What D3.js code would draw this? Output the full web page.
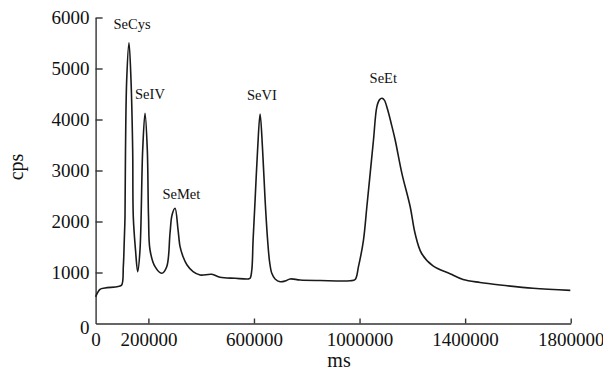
<!DOCTYPE html>
<html>
<head>
<meta charset="utf-8">
<script src="https://cdn.jsdelivr.net/npm/d3@7"></script>
<style>
  html, body { margin: 0; padding: 0; background: #fff; }
  svg text { font-family: "Liberation Serif", "Times New Roman", serif; fill: #111; }
</style>
</head>
<body>
<div id="chart"></div>
<script>
// -------- Data --------
// retention time, ms
const timeMs = [
  0, 16700, 35600, 84900, 98900, 105000, 108700, 111400, 113300, 117800,
  126500, 134100, 140500, 142800, 151200, 159500, 168200, 178400, 187200, 195900,
  200500, 206200, 225200, 250600, 269500, 282000, 289600, 301000, 312400, 320000,
  331400, 346500, 369300, 395800, 440100, 471600, 528400, 577700, 585300, 591800,
  596700, 604300, 613700, 623200, 632700, 642200, 651700, 659300, 667600, 680100,
  699100, 718000, 737000, 774900, 850700, 964400, 983400, 995900, 1014900, 1027700,
  1040300, 1052800, 1065700, 1076000, 1085000, 1094000, 1106000, 1121000, 1135000, 1160400,
  1191900, 1210200, 1234800, 1278400, 1342800, 1392100, 1456500, 1532300, 1657300, 1798500
];
// signal, cps
const signalCps = [
  525, 670, 696, 724, 755, 1114, 1637, 2094, 3402, 4775,
  5506, 4775, 3402, 2094, 1441, 1016, 1441, 3402, 4122, 3402,
  2094, 1441, 1114, 984, 1114, 1775, 2128, 2259, 1834, 1506,
  1310, 1147, 1016, 951, 965, 906, 886, 873, 886, 1049,
  1637, 2422, 3402, 4108, 3402, 2422, 1637, 1206, 984, 873,
  820, 833, 873, 853, 843, 839, 863, 1114, 1637, 2290,
  2945, 3598, 4252, 4390, 4416, 4380, 4200, 3900, 3598, 2945,
  2290, 1769, 1377, 1128, 976, 863, 804, 755, 690, 650
];

// peak labels
const peakNames = ["SeCys", "SeIV", "SeMet", "SeVI", "SeEt"];
const peakTimes = [138000, 206000, 325000, 630000, 1090000];
const peakCps   = [5775, 4400, 2440, 4380, 4716];

const xTicks = [0, 200000, 600000, 1000000, 1400000, 1800000];
const yTicks = [0, 1000, 2000, 3000, 4000, 5000, 6000];

// -------- Layout --------
const W = 603, H = 378;
const margin = { top: 17.5, right: 32.3, bottom: 54.5, left: 95.6 };
const width = W - margin.left - margin.right;
const height = H - margin.top - margin.bottom;

const svg = d3.select("#chart").append("svg")
  .attr("width", W)
  .attr("height", H);

const g = svg.append("g")
  .attr("transform", `translate(${margin.left},${margin.top})`);

const x = d3.scaleLinear().domain([0, 1800000]).range([0, width]);
const y = d3.scaleLinear().domain([0, 6000]).range([height, 0]);

// axes (ticks point inward)
const xAxis = g.append("g")
  .attr("transform", `translate(0,${height})`)
  .call(d3.axisBottom(x).tickValues(xTicks).tickSize(-5).tickSizeOuter(0)
    .tickPadding(9).tickFormat(d3.format("d")));

const yAxis = g.append("g")
  .call(d3.axisLeft(y).tickValues(yTicks).tickSize(-7).tickSizeOuter(0)
    .tickPadding(6).tickFormat(d3.format("d")));

[xAxis, yAxis].forEach(a => {
  a.attr("font-family", "'Liberation Serif', serif").attr("font-size", 19);
  a.selectAll("path, line").attr("stroke", "#333").attr("stroke-width", 1.4);
  a.selectAll("text").attr("fill", "#111");
});
// the zero on the y axis sits a little low in the original
yAxis.selectAll(".tick text").filter(d => d === 0).attr("dy", "0.55em");
// no inner tick at the corner
xAxis.selectAll(".tick line").filter(d => d === 0).remove();
yAxis.selectAll(".tick line").filter(d => d === 0).remove();

// curve
const line = d3.line()
  .x((d, i) => x(timeMs[i]))
  .y((d, i) => y(signalCps[i]))
  .curve(d3.curveCatmullRom.alpha(0.5));

g.append("path")
  .datum(signalCps)
  .attr("d", line)
  .attr("fill", "none")
  .attr("stroke", "#1a1a1a")
  .attr("stroke-width", 1.6)
  .attr("stroke-linejoin", "round");

// peak labels
g.selectAll(".peak")
  .data(peakNames)
  .join("text")
  .attr("class", "peak")
  .attr("x", (d, i) => x(peakTimes[i]))
  .attr("y", (d, i) => y(peakCps[i]))
  .attr("text-anchor", "middle")
  .attr("font-size", 14.5)
  .text(d => d);

// axis titles
svg.append("text")
  .attr("transform", `translate(23,167) rotate(-90)`)
  .attr("text-anchor", "middle")
  .attr("font-size", 20)
  .text("cps");

svg.append("text")
  .attr("x", 339)
  .attr("y", 367)
  .attr("text-anchor", "middle")
  .attr("font-size", 20)
  .text("ms");
</script>
</body>
</html>
